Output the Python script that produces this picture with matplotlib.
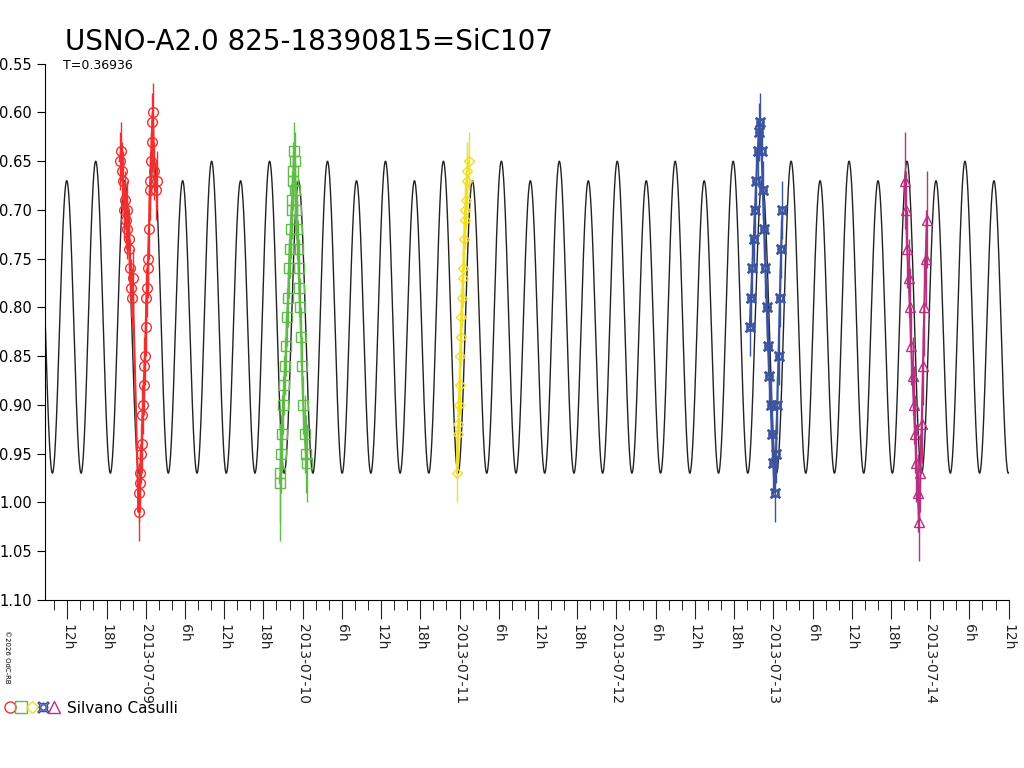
import numpy as np
import matplotlib.pyplot as plt
from matplotlib.ticker import FixedLocator, MultipleLocator

# time in hours from 2013-07-09 00:00, magnitudes
period_days = 0.36936
epoch_h = -7.65          # time of the 0.65 maximum
mag_mean, amp2, amp1 = 0.815, -0.155, -0.010

red_t = [-4.0, -3.8, -3.6, -3.5, -3.3, -3.2, -3.0, -2.9, -2.8, -2.6, -2.5, -2.4, -2.2, -2.1, -2.0,
         -1.1, -1.0, -0.9, -0.8, -0.7, -0.6, -0.5, -0.4, -0.3, -0.2, -0.1, 0.0, 0.1, 0.2, 0.3,
         0.4, 0.5, 0.6, 0.7, 0.8, 0.9, 1.0, 1.1, 1.3, 1.5, 1.7]
red_m = [0.65, 0.64, 0.66, 0.67, 0.70, 0.69, 0.71, 0.72, 0.70, 0.74, 0.73, 0.76, 0.78, 0.79, 0.77,
         1.01, 0.99, 0.98, 0.97, 0.95, 0.94, 0.91, 0.90, 0.88, 0.86, 0.85, 0.82, 0.79, 0.78, 0.76,
         0.75, 0.72, 0.68, 0.67, 0.65, 0.63, 0.61, 0.60, 0.66, 0.68, 0.67]
red_e = [0.03] * 41

green_t = [20.5, 20.6, 20.7, 20.9, 21.0, 21.2, 21.3, 21.5, 21.6, 21.8, 21.9, 22.0, 22.2, 22.3, 22.4,
           22.5, 22.6, 22.7, 22.8, 22.9, 23.0, 23.1, 23.3, 23.4, 23.5, 23.6, 23.8, 23.9, 24.1, 24.3, 24.5, 24.7]
green_m = [0.98, 0.97, 0.95, 0.93, 0.90, 0.88, 0.86, 0.84, 0.81, 0.79, 0.76, 0.74, 0.72, 0.70, 0.69,
           0.67, 0.66, 0.64, 0.65, 0.68, 0.70, 0.72, 0.74, 0.76, 0.78, 0.80, 0.83, 0.86, 0.90, 0.93, 0.95, 0.96]
green_e = [0.06, 0.05, 0.04, 0.04, 0.03, 0.03, 0.03, 0.03, 0.03, 0.03, 0.03, 0.03, 0.03, 0.03, 0.03,
           0.03, 0.03, 0.03, 0.03, 0.03, 0.03, 0.03, 0.03, 0.03, 0.03, 0.03, 0.03, 0.03, 0.03, 0.04, 0.04, 0.04]

yellow_t = [47.6, 47.7, 47.8, 47.9, 48.0, 48.1, 48.2, 48.3, 48.4, 48.5, 48.6, 48.7, 48.8, 48.9, 49.0, 49.1, 49.2, 49.4]
yellow_m = [0.97, 0.93, 0.92, 0.90, 0.88, 0.85, 0.83, 0.81, 0.79, 0.77, 0.76, 0.73, 0.71, 0.70, 0.69, 0.67, 0.66, 0.65]
yellow_e = [0.03] * 18

blue_t = [92.4, 92.6, 92.8, 93.0, 93.2, 93.4, 93.6, 93.8, 94.0, 94.2, 94.4, 94.6, 94.8, 95.0, 95.2,
          95.4, 95.6, 95.8, 96.0, 96.2, 96.4, 96.6, 96.8, 97.0, 97.2, 97.4]
blue_m = [0.82, 0.79, 0.76, 0.73, 0.70, 0.67, 0.64, 0.62, 0.61, 0.64, 0.68, 0.72, 0.76, 0.80, 0.84,
          0.87, 0.90, 0.93, 0.96, 0.99, 0.95, 0.90, 0.85, 0.79, 0.74, 0.70]
blue_e = [0.03] * 26

mag_t = [116.1, 116.3, 116.5, 116.7, 116.9, 117.1, 117.3, 117.5, 117.7, 117.9, 118.1, 118.3, 118.5,
         118.7, 118.9, 119.1, 119.3, 119.5]
mag_m = [0.67, 0.70, 0.74, 0.77, 0.80, 0.84, 0.87, 0.90, 0.93, 0.96, 0.99, 1.02, 0.97, 0.92, 0.86,
         0.80, 0.75, 0.71]
mag_e = [0.05, 0.04, 0.04, 0.04, 0.04, 0.04, 0.04, 0.04, 0.04, 0.04, 0.04, 0.04, 0.04, 0.04, 0.04,
         0.05, 0.05, 0.05]

fig = plt.figure(figsize=(10.24, 7.68), dpi=100)
ax = fig.add_axes([0.044, 0.219, 0.941, 0.698])

t = np.linspace(-15.4, 132, 4000)
ph = (t - epoch_h) / (period_days * 24)
ax.plot(t, mag_mean + amp2 * np.cos(4 * np.pi * ph) + amp1 * np.cos(2 * np.pi * ph), color='#222222', lw=1)

groups = [
    (red_t, red_m, red_e, '#f03030', 'o'),
    (green_t, green_m, green_e, '#60bb48', 's'),
    (yellow_t, yellow_m, yellow_e, '#f0e020', 'D'),
    (blue_t, blue_m, blue_e, '#3a54a0', '$\u00a4$'),
    (mag_t, mag_m, mag_e, '#b83080', '^'),
]
for gt, gm, ge, col, mk in groups:
    ax.plot(gt, gm, color=col, lw=1.5)
    ax.errorbar(gt, gm, yerr=ge, fmt='none', ecolor=col, elinewidth=1, capsize=0)
    ax.plot(gt, gm, ls='none', marker=mk, mfc='none', mec=col, ms=7 if mk != 'D' else 5.5)

ax.set_xlim(-15.4, 132)
ax.set_ylim(1.10, 0.55)
ax.set_yticks(np.arange(0.55, 1.101, 0.05))
ax.set_yticklabels(['%.2f' % v for v in np.arange(0.55, 1.101, 0.05)])
for s in ['top', 'right']:
    ax.spines[s].set_visible(False)

major = np.arange(-12, 133, 6)
labels = []
days = ['2013-07-%02d' % d for d in range(8, 15)]
for h in major:
    hr = int(h % 24)
    labels.append(days[int((h + 24) // 24)] if hr == 0 else '%dh' % hr)
ax.xaxis.set_major_locator(FixedLocator(major))
ax.set_xticklabels(labels, rotation=270, fontsize=10)
ax.xaxis.set_minor_locator(MultipleLocator(2))
ax.tick_params(axis='x', which='major', length=14, direction='out', colors='#222222')
ax.tick_params(axis='x', which='minor', length=7)
ax.tick_params(axis='y', labelsize=10.5, length=6)

fig.text(0.063, 0.935, 'USNO-A2.0 825-18390815=SiC107', fontsize=20)
fig.text(0.062, 0.91, 'T=0.36936', fontsize=9)
fig.text(0.004, 0.18, '\u00a92026 OdC-RB', fontsize=5, rotation=270, va='top')
fig.text(0.065, 0.071, 'Silvano Casulli', fontsize=11)
leg_cols = ['#f03030', '#60bb48', '#f0e020', '#3a54a0', '#b83080']
leg_mk = ['o', 's', 'D', '$\u00a4$', '^']
for i, (c, m) in enumerate(zip(leg_cols, leg_mk)):
    fig.lines.append(plt.Line2D([0.0095 + i * 0.0107], [0.079], transform=fig.transFigure,
                                marker=m, mfc='none', mec=c, ms=8 if m != 'D' else 6, ls='none'))

fig.savefig('out.png', dpi=100)
